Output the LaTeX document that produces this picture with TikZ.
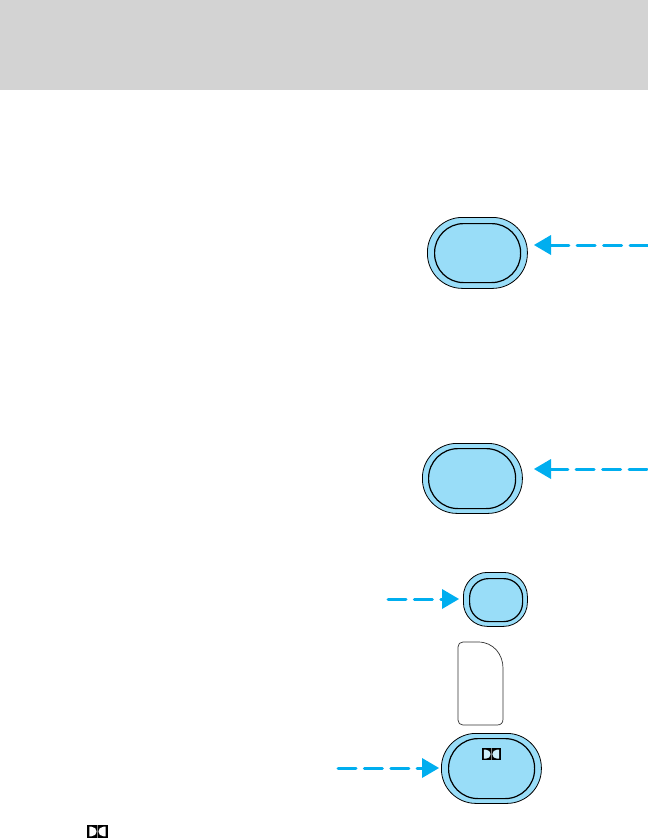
\documentclass[tikz,border=0pt]{standalone}
\usetikzlibrary{arrows.meta}
\definecolor{btn}{HTML}{99DDF8}
\definecolor{arr}{HTML}{00AEEF}
\definecolor{hdr}{HTML}{D3D3D3}
\tikzset{
  x=1pt,y=-1pt,
  outerbtn/.style={draw=black,line width=0.8pt,fill=btn,rectangle,inner sep=0pt,anchor=north west},
  innerbtn/.style={draw=black,line width=1.2pt,fill=btn,rectangle,inner sep=0pt,anchor=north west},
  callout/.style={draw=arr,line width=3pt,line cap=round,dash pattern=on 18pt off 8.4pt,
    -{Triangle[length=17pt,width=20pt,fill=arr,line width=0pt]}},
  tabshape/.style={draw=black!80,line width=0.7pt,fill=white},
}
\newcommand{\dolbylogo}[4]{% x, y, scale, fill of the D shapes
  \begin{scope}[shift={(#1,#2)},x=#3pt,y=-#3pt]
    \fill[black] (0,0) rectangle (21,13);
    \fill[#4] (2.4,1.7) -- (4.5,1.7) .. controls (7.5,1.7) and (9.6,4) .. (9.6,6.5) .. controls (9.6,9) and (7.5,11.3) .. (4.5,11.3) -- (2.4,11.3) -- cycle;
    \fill[#4] (18.6,1.7) -- (16.5,1.7) .. controls (13.5,1.7) and (11.4,4) .. (11.4,6.5) .. controls (11.4,9) and (13.5,11.3) .. (16.5,11.3) -- (18.6,11.3) -- cycle;
    \draw[gray,line width=0.4pt] (10.5,0) -- (10.5,13);
  \end{scope}
}
\begin{document}
\begin{tikzpicture}
\useasboundingbox (0,0) rectangle (648,839);
\fill[white] (0,0) rectangle (648,839);
\fill[hdr] (0,0) rectangle (648,90);

% Button 1
\node[outerbtn,minimum width=100pt,minimum height=71pt,rounded corners=35pt] (b1o) at (427,217) {};
\node[innerbtn,minimum width=86pt,minimum height=59pt,rounded corners=29pt] (b1i) at (434,223) {};
\coordinate (t1) at (648,245);
\coordinate (h1) at (534,245);
\draw[callout] (t1) -- (h1);

% Button 2
\node[outerbtn,minimum width=100pt,minimum height=70pt,rounded corners=34.5pt] (b2o) at (422,443) {};
\node[innerbtn,minimum width=87pt,minimum height=60pt,rounded corners=29.5pt] (b2i) at (428,448) {};
\coordinate (t2) at (647,469);
\coordinate (h2) at (534,469);
\draw[callout] (t2) -- (h2);

% Button 3
\node[outerbtn,minimum width=64pt,minimum height=54pt,rounded corners=24pt] (b3o) at (463,572) {};
\node[innerbtn,minimum width=53pt,minimum height=43pt,rounded corners=19pt] (b3i) at (469,578) {};
\coordinate (t3) at (388,599);
\coordinate (h3) at (459,599);
\draw[callout] (t3) -- (h3);

% Tab
\draw[tabshape] (463,642) -- (478,642) .. controls (494,642) and (503,655) .. (503,668)
  -- (503,719) .. controls (503,723) and (501,725) .. (497,725)
  -- (463,725) .. controls (460,725) and (458,723) .. (458,720)
  -- (458,647) .. controls (458,644) and (460,642) .. (463,642) -- cycle;

% Button 4
\node[outerbtn,minimum width=100pt,minimum height=70pt,rounded corners=34.5pt] (b4o) at (441,733) {};
\node[innerbtn,minimum width=86pt,minimum height=60pt,rounded corners=29.5pt] (b4i) at (448,738) {};
\coordinate (t4) at (338,768);
\coordinate (h4) at (439,768);
\draw[callout] (t4) -- (h4);

\dolbylogo{481.5}{748}{0.95}{btn!50!white}
\dolbylogo{87}{825}{1}{white}
\end{tikzpicture}
\end{document}
